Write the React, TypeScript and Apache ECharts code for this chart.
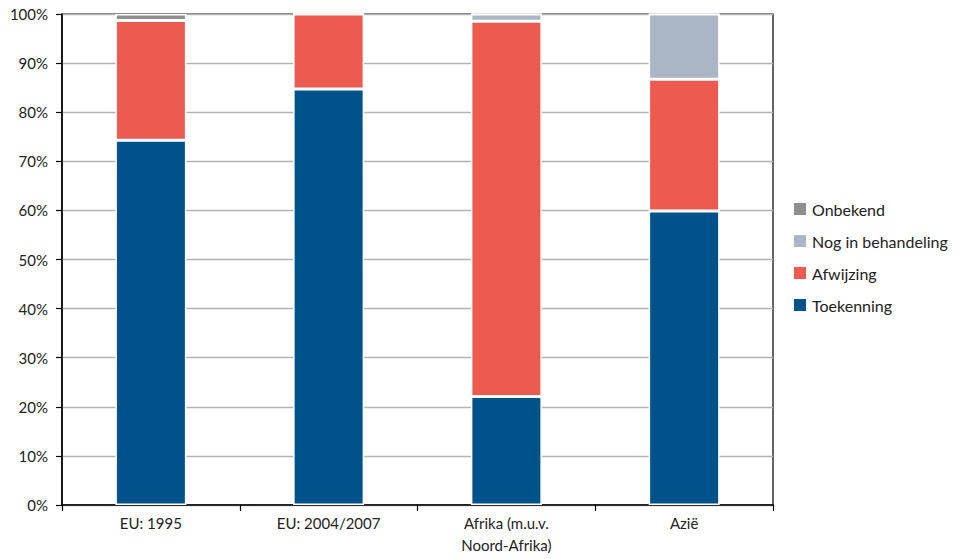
import React, { useEffect, useRef } from "react";
import * as echarts from "echarts";

const categories = ["EU: 1995", "EU: 2004/2007", "Afrika (m.u.v.\nNoord-Afrika)", "Azië"];
const toekenning = [74.3, 84.7, 22.1, 59.9];
const afwijzing = [24.4, 15.3, 76.4, 26.8];
const nogInBehandeling = [0, 0, 1.5, 13.3];
const onbekend = [1.3, 0, 0, 0];
const legendOrder = ["Onbekend", "Nog in behandeling", "Afwijzing", "Toekenning"];

const FONT = "Lato, 'Open Sans', sans-serif";

export default function App() {
  const ref = useRef<HTMLDivElement>(null);
  useEffect(() => {
    if (!ref.current) return;
    const chart = echarts.init(ref.current, null, { renderer: "svg" });
    const mk = (name: string, data: number[], color: string) => ({
      name,
      type: "bar",
      stack: "total",
      data,
      barWidth: 71,
      itemStyle: { color, borderColor: "#ffffff", borderWidth: 1.5 },
      emphasis: { disabled: true },
    });
    chart.setOption({
      animation: false,
      textStyle: { fontFamily: FONT },
      grid: {
        left: 62,
        right: 186,
        top: 14,
        bottom: 54,
        show: true,
        borderColor: "#000",
        borderWidth: 1.2,
        backgroundColor: "transparent",
      },
      legend: {
        orient: "vertical",
        left: 787,
        top: 196,
        data: legendOrder,
        icon: "rect",
        itemWidth: 14,
        itemHeight: 14,
        itemGap: 16,
        textStyle: { fontSize: 16, color: "#222", fontFamily: FONT },
      },
      xAxis: {
        type: "category",
        data: categories,
        axisLine: { lineStyle: { color: "#000", width: 1.5 } },
        axisTick: { show: true, length: 6, lineStyle: { color: "#000", width: 1.2 } },
        axisLabel: { fontSize: 15, color: "#222", margin: 7, lineHeight: 22, fontFamily: FONT },
      },
      yAxis: {
        type: "value",
        min: 0,
        max: 100,
        interval: 10,
        axisLine: { show: true, lineStyle: { color: "#000", width: 1.5 } },
        axisTick: { show: true, length: 6, lineStyle: { color: "#000", width: 1.2 } },
        axisLabel: { formatter: "{value}%", fontSize: 15, color: "#222", margin: 14, fontFamily: FONT },
        splitLine: { lineStyle: { color: "#b3b3b3", width: 1.3 } },
      },
      series: [
        mk("Toekenning", toekenning, "#00538a"),
        mk("Afwijzing", afwijzing, "#ec5a50"),
        mk("Nog in behandeling", nogInBehandeling, "#aab5c5"),
        mk("Onbekend", onbekend, "#8f8f8f"),
      ],
    });
    return () => chart.dispose();
  }, []);
  return <div ref={ref} style={{ position: "absolute", left: 0, top: 0, width: 959, height: 559 }} />;
}
